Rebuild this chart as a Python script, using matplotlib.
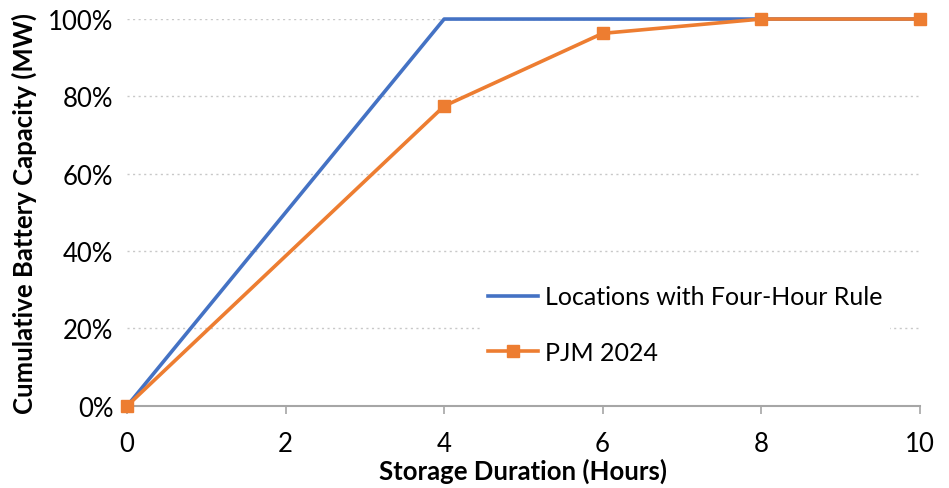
import matplotlib.pyplot as plt
from matplotlib.ticker import FuncFormatter

# Dados
hours_rule = [0, 4, 10]
share_rule = [0, 100, 100]
hours_pjm = [0, 4, 6, 8, 10]
share_pjm = [0, 77.5, 96.3, 100, 100]
labels = ['Locations with Four-Hour Rule', 'PJM 2024']

plt.rcParams['font.family'] = ['Lato', 'DejaVu Sans']

fig = plt.figure(figsize=(9.49, 4.89), dpi=100)
ax = fig.add_axes([0.134, 0.168, 0.835, 0.791])

ax.plot(hours_rule, share_rule, color='#4472C4', linewidth=2.6, label=labels[0],
        clip_on=False, zorder=3)
ax.plot(hours_pjm, share_pjm, color='#ED7D31', linewidth=2.6, marker='s', markersize=8.5,
        label=labels[1], clip_on=False, zorder=4)

ax.set_xlim(0, 10)
ax.set_ylim(0, 100)
ax.set_xticks(range(0, 11, 2))
ax.set_yticks(range(0, 101, 20))
ax.yaxis.set_major_formatter(FuncFormatter(lambda v, p: f'{v:.0f}%'))

ax.grid(axis='y', color='#C8C8C8', linestyle=(0, (1.5, 2.5)), linewidth=1)
ax.set_axisbelow(True)
for s in ['top', 'right', 'left']:
    ax.spines[s].set_visible(False)
ax.spines['bottom'].set_color('#A6A6A6')
ax.spines['bottom'].set_linewidth(1.5)
ax.tick_params(axis='y', length=0, labelsize=18.5, pad=10)
ax.tick_params(axis='x', length=6, color='#A6A6A6', width=1.2, labelsize=18.5, pad=12)

ax.set_xlabel('Storage Duration (Hours)', fontsize=18.5, fontweight='bold', labelpad=1)
ax.set_ylabel('Cumulative Battery Capacity (MW)', fontsize=18.5, fontweight='bold', labelpad=8)

leg = ax.legend(loc='lower left', bbox_to_anchor=(0.43, 0.056), frameon=True, fontsize=18,
                handlelength=2.0, handletextpad=0.3, labelspacing=1.31, borderpad=0.3)
leg.get_frame().set_edgecolor('none')
leg.get_frame().set_facecolor('white')
leg.get_frame().set_alpha(1)

fig.savefig('out.png', dpi=100)
